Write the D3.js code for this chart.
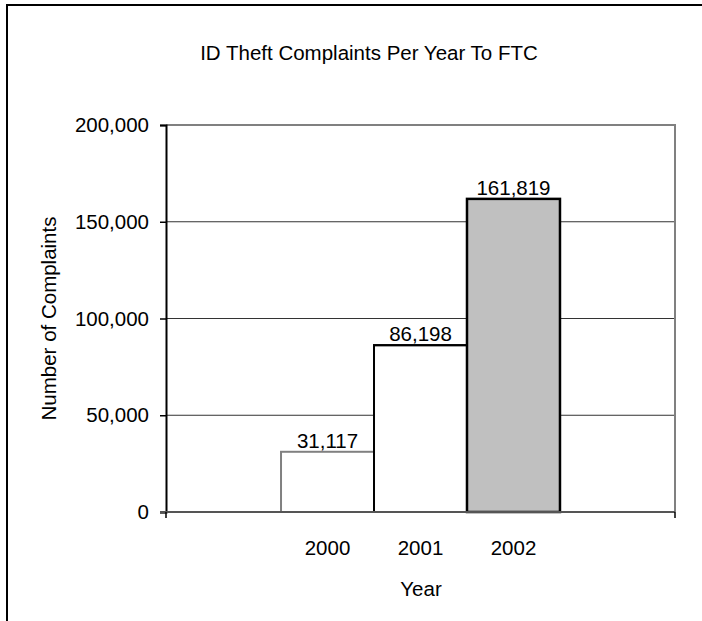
<!DOCTYPE html>
<html>
<head>
<meta charset="utf-8">
<script src="https://cdn.jsdelivr.net/npm/d3@7"></script>
<style>
body { margin: 0; background: #fff; }
text { font-family: "Liberation Sans", Arial, sans-serif; fill: #000; }
</style>
</head>
<body>
<script>
var years = ["2000", "2001", "2002"]
var complaints = [31117, 86198, 161819]
var fills = ["#ffffff", "#ffffff", "#c0c0c0"]
var strokes = ["#808080", "#000000", "#000000"]
var yTicks = [0, 50000, 100000, 150000, 200000]

var W = 702, H = 621
var plot = {left: 166, right: 675, top: 125, bottom: 512}
var fs = "20.5px"

var svg = d3.select("body")
	.append("svg")
	.attr("width", W)
	.attr("height", H)

// chart frame, runs off the page on the right and bottom
svg.append("rect")
	.attr("x", 7)
	.attr("y", 5)
	.attr("width", 760)
	.attr("height", 700)
	.attr("fill", "#fff")
	.attr("stroke", "#000")
	.attr("stroke-width", 2)

var x = d3.scaleBand()
	.domain(years)
	.range([plot.left, plot.right])
	.paddingInner(0)
	.paddingOuter(1.237)

var y = d3.scaleLinear()
	.domain([0, 200000])
	.range([plot.bottom, plot.top])

// gridlines
svg.selectAll(".grid")
	.data(yTicks.filter(function(t) { return t > 0 && t < 200000 }))
	.enter()
	.append("line")
	.attr("class", "grid")
	.attr("x1", plot.left)
	.attr("x2", plot.right)
	.attr("y1", function(t) { return y(t) })
	.attr("y2", function(t) { return y(t) })
	.attr("stroke", "#333")
	.attr("stroke-width", 1)

// plot area border (top and right)
svg.append("path")
	.attr("d", "M" + plot.left + "," + y(200000) + "H" + plot.right + "V" + plot.bottom)
	.attr("fill", "none")
	.attr("stroke", "#808080")
	.attr("stroke-width", 2)

// bars
svg.selectAll(".bar")
	.data(years)
	.enter()
	.append("rect")
	.attr("class", "bar")
	.attr("x", function(d) { return x(d) })
	.attr("y", function(d, i) { return y(complaints[i]) })
	.attr("width", x.bandwidth())
	.attr("height", function(d, i) { return plot.bottom - y(complaints[i]) })
	.attr("fill", function(d, i) { return fills[i] })
	.attr("stroke", function(d, i) { return strokes[i] })
	.attr("stroke-width", function(d, i) { return i == 2 ? 2.5 : 2 })

// draw the middle bar's outline again so it sits over the grey one
svg.append("rect")
	.attr("x", x("2001"))
	.attr("y", y(complaints[1]))
	.attr("width", x.bandwidth())
	.attr("height", plot.bottom - y(complaints[1]))
	.attr("fill", "none")
	.attr("stroke", "#000")
	.attr("stroke-width", 2)

// value labels
svg.selectAll(".val")
	.data(years)
	.enter()
	.append("text")
	.attr("class", "val")
	.attr("x", function(d) { return x(d) + x.bandwidth() / 2 })
	.attr("y", function(d, i) { return y(complaints[i]) - 4 })
	.attr("text-anchor", "middle")
	.style("font-size", fs)
	.text(function(d, i) { return d3.format(",")(complaints[i]) })

// y axis
var yAxis = d3.axisLeft(y)
	.tickValues(yTicks)
	.tickFormat(d3.format(","))
	.tickSize(6)
	.tickPadding(11)

var gy = svg.append("g")
	.attr("transform", "translate(" + plot.left + ",0)")
	.call(yAxis)
gy.select(".domain").attr("stroke", "#000").attr("stroke-width", 2)
gy.selectAll(".tick line").attr("stroke", "#000").attr("stroke-width", 1.5)
gy.selectAll(".tick text").style("font-size", fs).attr("fill", "#000")

// x axis line and boundary ticks
svg.append("line")
	.attr("x1", plot.left - 6)
	.attr("x2", plot.right)
	.attr("y1", plot.bottom)
	.attr("y2", plot.bottom)
	.attr("stroke", "#555")
	.attr("stroke-width", 2)

svg.selectAll(".xtick")
	.data([plot.left, plot.right])
	.enter()
	.append("line")
	.attr("class", "xtick")
	.attr("x1", function(d) { return d })
	.attr("x2", function(d) { return d })
	.attr("y1", plot.bottom)
	.attr("y2", plot.bottom + 6)
	.attr("stroke", "#000")
	.attr("stroke-width", 1.5)

svg.selectAll(".xlab")
	.data(years)
	.enter()
	.append("text")
	.attr("class", "xlab")
	.attr("x", function(d) { return x(d) + x.bandwidth() / 2 })
	.attr("y", 555)
	.attr("text-anchor", "middle")
	.style("font-size", fs)
	.text(function(d) { return d })

// titles
svg.append("text")
	.attr("x", 369)
	.attr("y", 60)
	.attr("text-anchor", "middle")
	.style("font-size", fs)
	.text("ID Theft Complaints Per Year To FTC")

svg.append("text")
	.attr("x", 421)
	.attr("y", 596)
	.attr("text-anchor", "middle")
	.style("font-size", fs)
	.text("Year")

svg.append("text")
	.attr("transform", "translate(56," + ((plot.top + plot.bottom) / 2) + ") rotate(-90)")
	.attr("text-anchor", "middle")
	.style("font-size", fs)
	.text("Number of Complaints")
</script>
</body>
</html>
